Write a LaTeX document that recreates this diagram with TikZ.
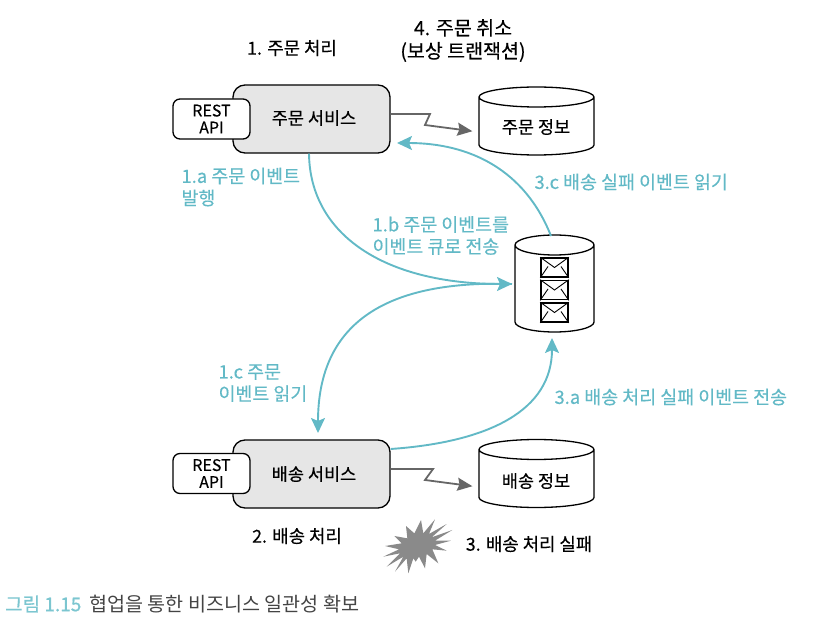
\documentclass[tikz,border=0pt]{standalone}
\usepackage{fontspec}
\setmainfont{Noto Sans CJK KR}
\newfontfamily\labelfont[FakeBold=0.3]{Noto Sans CJK KR}
\newfontfamily\capfont[FakeBold=0.8]{Noto Sans CJK KR}
\usetikzlibrary{arrows.meta,shapes.geometric}
\definecolor{flowteal}{HTML}{62B9C6}
\definecolor{capteal}{HTML}{7CC6D0}
\definecolor{boxgray}{HTML}{E6E6E6}
\definecolor{wiregray}{HTML}{666666}
\definecolor{burstgray}{HTML}{8A8A8A}
\definecolor{captext}{HTML}{444444}
\tikzset{
  svcbox/.style={draw,fill=boxgray,rounded corners=12pt,line width=1.3pt,minimum width=157pt,minimum height=68pt},
  apibox/.style={draw,fill=white,rounded corners=7pt,line width=1.3pt,minimum width=77pt,minimum height=40pt,align=center,font=\labelfont\fontsize{16}{17}\selectfont},
  dbcyl/.style={draw,fill=white,cylinder,shape border rotate=90,aspect=3,anchor=shape center,line width=1.3pt},
  namelabel/.style={font=\labelfont\fontsize{17.5}{20}\selectfont},
  envbox/.style={draw,fill=white,line width=1.6pt,minimum width=27pt,minimum height=19pt},
  blacklabel/.style={align=center,font=\labelfont\fontsize{17.8}{23}\selectfont},
  teallabel/.style={text=flowteal,align=left,anchor=west,font=\labelfont\fontsize{18.4}{22}\selectfont},
  flowline/.style={draw=flowteal,line width=1.9pt,-{Stealth[length=15pt,width=14pt,inset=3pt]}},
  wireline/.style={draw=wiregray,line width=1.8pt,-{Stealth[length=15pt,width=13pt,inset=2pt]}}
}
\newcommand{\envelope}[2]{\node[envbox] (#1) at (554.5,#2) {};
  \draw[line width=0.9pt] (#1.north west)--(#1.center)--(#1.north east);
  \draw[line width=0.9pt] (#1.south west)--(548,#2-1);
  \draw[line width=0.9pt] (#1.south east)--(561,#2-1);}
\begin{document}
\begin{tikzpicture}[x=1pt,y=-1pt]
\useasboundingbox (0,0) rectangle (814,628);
% services
\node[svcbox] (ordersvc) at (311.5,119) {};
\node[svcbox] (shipsvc) at (311.5,474) {};
\node[apibox] (orderapi) at (211.5,119) {REST\\API};
\node[apibox] (shipapi) at (211.5,473.5) {REST\\API};
\node[namelabel] (ordername) at (314,118) {주문 서비스};
\node[namelabel] (shipname) at (314,474) {배송 서비스};
% stores
\node[dbcyl,minimum width=115pt,minimum height=68pt] (orderdb) at (536.5,121) {};
\node[dbcyl,minimum width=115pt,minimum height=68pt] (shipdb) at (536.5,473.5) {};
\node[namelabel] (orderdbname) at (536,127) {주문 정보};
\node[namelabel] (shipdbname) at (536,481) {배송 정보};
\node[dbcyl,minimum width=79pt,minimum height=97pt] (queue) at (554.5,283.5) {};
\envelope{envone}{267.5}
\envelope{envtwo}{290}
\envelope{envthree}{312.5}
% connectors
\draw[wireline,shorten >=6pt] ([yshift=5pt]ordersvc.east)--(430,114)--(425,125)--([yshift=-4pt]orderdb.west);
\draw[wireline,shorten >=6pt] ([yshift=5pt]shipsvc.east)--(433,469)--(425,480)--([yshift=-6.5pt]shipdb.west);
\coordinate (queuein) at (512,284);
\coordinate (queueout) at (551,236);
\coordinate (queuebot) at (552,338);
\coordinate (shiptop) at (318,433);
\coordinate (ordertip) at (397,143);
\draw[flowline] ([xshift=-2.5pt]ordersvc.south) .. controls (310,235) and (385,284) .. (queuein);
\draw[flowline] (queuein) .. controls (390,280) and (318,320) .. (shiptop);
\draw[flowline] ([yshift=25pt]shipsvc.east) .. controls (490,442) and (552,410) .. (queuebot);
\draw[flowline] (queueout) .. controls (525,170) and (470,143) .. (ordertip);
% burst
\fill[burstgray,shift={(375,510)},x=0.3333pt,y=-0.3333pt] (30,108)--(80,100)--(58,78)--(97,85)--(93,48)--(118,70)--(138,30)--(145,70)--(180,28)--(162,72)--(215,42)--(170,82)--(232,60)--(180,92)--(228,92)--(180,105)--(215,122)--(172,118)--(190,160)--(155,132)--(150,175)--(132,140)--(122,155)--(115,145)--(100,190)--(95,145)--(60,185)--(85,140)--(35,170)--(75,130)--(25,140)--(72,118)--cycle;
% labels
\node[blacklabel] (stepone) at (292,48) {1. 주문 처리};
\node[blacklabel,font=\labelfont\fontsize{19.5}{23}\selectfont] (stepfour) at (463,40.5) {4. 주문 취소\\(보상 트랜잭션)};
\node[blacklabel] (steptwo) at (297,536) {2. 배송 처리};
\node[blacklabel] (stepthree) at (529,544) {3. 배송 처리 실패};
\node[teallabel] (flowa) at (178,187) {1.a 주문 이벤트\\발행};
\node[teallabel] (flowb) at (369,235.5) {1.b 주문 이벤트를\\이벤트 큐로 전송};
\node[teallabel] (flowc) at (215,383) {1.c 주문\\이벤트 읽기};
\node[teallabel] (flowthreec) at (531,182) {3.c 배송 실패 이벤트 읽기};
\node[teallabel] (flowthreea) at (551,397) {3.a 배송 처리 실패 이벤트 전송};
\node[anchor=west,font=\capfont\fontsize{19}{22}\selectfont,text=capteal,inner sep=0pt] (captitle) at (5,604) {그림 1.15};
\node[anchor=west,font=\fontsize{19.6}{22}\selectfont,text=captext,inner sep=0pt] (caption) at (89,604) {협업을 통한 비즈니스 일관성 확보};
\end{tikzpicture}
\end{document}
